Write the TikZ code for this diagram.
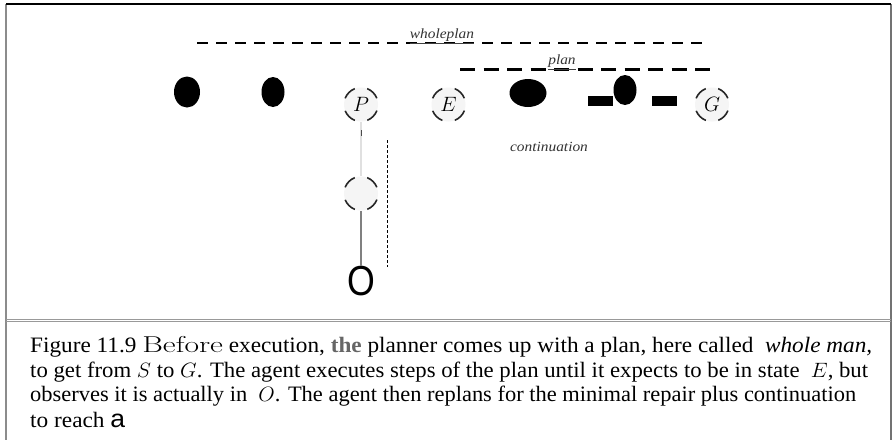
\documentclass[tikz,border=0pt]{standalone}
\usepackage{fontspec}
\setmainfont{Liberation Serif}
\newfontfamily\capsans{Liberation Sans}
\newcommand\lmfont{\fontfamily{lmr}\selectfont}
\usetikzlibrary{shapes.geometric}
\begin{document}
\begin{tikzpicture}[x=1pt,y=-1pt,
  blob/.style={ellipse,fill=black,draw=none,inner sep=0pt},
  bar/.style={rectangle,fill=black,draw=none,inner sep=0pt,minimum width=25pt,minimum height=10pt},
  st/.style={circle,minimum size=34pt,inner sep=0pt,fill=black!4,draw=black!85,line width=1.6pt,
    dash pattern=on 14pt off 12.7pt,dash phase=20.35pt,font=\fontsize{20}{20}\selectfont},
  planline/.style={dashed,line width=2pt,dash pattern=on 10.5pt off 8.5pt},
  lbl/.style={inner sep=0pt,text=black!80,font=\itshape\fontsize{14}{14}\selectfont},
  capline/.style={inner sep=0pt,anchor=base west,font=\fontsize{22}{24}\selectfont},
  frame/.style={line width=1.5pt}]
\useasboundingbox (0,0) rectangle (894,440);
\fill[white] (0,0) rectangle (894,440);
% frame
\draw[frame,black!45] (6,4) -- (6,440);
\draw[frame,black!55] (891,4) -- (891,440);
\draw[line width=1.2pt,black] (6,4) -- (891,4);
\draw[line width=0.9pt,black!40] (6,319) -- (891,319);
\draw[line width=0.9pt,black!40] (6,321.5) -- (891,321.5);
% whole plan line
\coordinate (wpL) at (197,43);
\coordinate (wpR) at (708,43);
\draw[planline] (wpL) -- (wpR);
\node[lbl] (wpl) at (442,35) {\scalebox{1.1}[1]{wholeplan}};
\draw[line width=1pt,black!75] (wpl.west |- wpL) -- (wpl.east |- wpL);
% plan line
\coordinate (pL) at (460,69.5);
\coordinate (pR) at (711,69.5);
\draw[planline,line width=3pt,dash pattern=on 15pt off 8.5pt] (pL) -- (pR);
\node[lbl] (pl) at (562,61.5) {\scalebox{1.1}[1]{plan}};
\draw[line width=1pt,black!75] (pl.west |- pL) -- (pl.east |- pL);
% dots and bars
\node[blob,minimum width=26pt,minimum height=31pt] (d1) at (187,92) {};
\node[blob,minimum width=23pt,minimum height=30pt] (d2) at (273,92) {};
\node[blob,minimum width=37pt,minimum height=28pt] (d3) at (528,93) {};
\node[blob,minimum width=23pt,minimum height=30pt] (d4) at (625,90) {};
\node[bar] (b1) at (600.5,101) {};
\node[bar] (b2) at (664,101) {};
% states
\node[st] (P) at (361,104.5) {$P$};
\node[st] (E) at (448.5,104.5) {$E$};
\node[st] (G) at (712,104.5) {$G$};
\node[st] (R) at (361,193.5) {};
\node[inner sep=0pt,font=\capsans\fontsize{42}{42}\selectfont] (O) at (361,281) {\scalebox{0.85}[1]{O}};
% connectors
\draw[black!12,line width=1.2pt] (P.south) -- (R.north);
\draw[black!70,line width=1pt] ([shift={(0,8)}]P.south) -- ([shift={(0,14)}]P.south);
\draw[black!50,line width=1.4pt] (R.south) -- (O.north);
\coordinate (cT) at (387,140);
\coordinate (cB) at (387,267);
\draw[line width=0.8pt,dash pattern=on 3pt off 2pt] (cT) -- (cB);
\node[lbl,text=black!80] (cont) at (549,147) {\scalebox{1.1}[1]{continuation}};
% caption
\node[capline] (c1) at (30,352) {\resizebox{842pt}{\height}{Figure 11.9 {\lmfont\fontsize{23}{23}\selectfont\scalebox{1.3}[1]{Before}} execution, \textcolor{black!60}{\textbf{the}} planner comes up with a plan, here called \ \textit{whole man,}}};
\node[capline] (c2) at (30,377) {\resizebox{838pt}{\height}{to get from $S$ to $G$. The agent executes steps of the plan until it expects to be in state \ $E$, but}};
\node[capline] (c3) at (30,401) {\resizebox{826pt}{\height}{observes it is actually in \ $O$. The agent then replans for the minimal repair plus continuation}};
\node[capline] (c4) at (30,427) {\resizebox{95pt}{\height}{to reach {\capsans\fontsize{25}{25}\selectfont a}}};
\end{tikzpicture}
\end{document}
